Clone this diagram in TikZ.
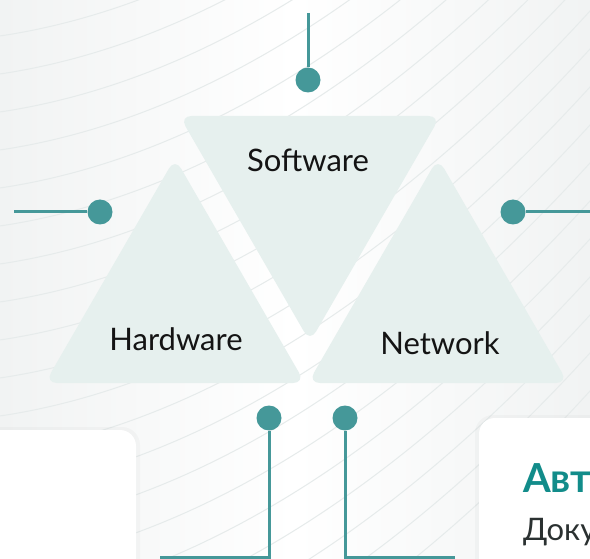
\documentclass[tikz,border=0pt]{standalone}
\usepackage{fontspec}
\setmainfont{Lato}

\definecolor{tealdot}{HTML}{459899}
\definecolor{tealhead}{HTML}{128C8A}
\definecolor{trifill}{HTML}{E6F0EE}
\definecolor{bgline}{HTML}{E6EBEB}
\definecolor{bgside}{HTML}{F1F3F3}
\definecolor{txtdark}{HTML}{2B3131}

\tikzset{
	dot/.style={circle, fill=tealdot, minimum size=25pt, inner sep=0pt},
	wire/.style={draw=tealdot, line width=3pt},
	tri/.style={fill=trifill, rounded corners=12pt},
	card/.style={fill=white, rounded corners=16pt},
	lbl/.style={font=\fontsize{31}{36}\selectfont, text=black!92, anchor=base},
}

\begin{document}
\begin{tikzpicture}[x=1pt, y=-1pt]
		\useasboundingbox (0,0) rectangle (590,559);
		\shade[left color=bgside, right color=bgside, middle color=white] (0,0) rectangle (590,559);
		% curved lines in the background
		\foreach \k in {0,...,26}
			\draw[bgline, line width=1pt] plot[smooth, domain=-10:600, samples=30]
			(\x, {38*\k - 230 - 0.15*\x - 8*(\x/100)^2});

		% the three triangles
		\fill[tri] (179.5,116) -- (440.5,116) -- (310,342) -- cycle;
		\fill[tri] (175,158) -- (305,383) -- (45,383) -- cycle;
		\fill[tri] (438,158) -- (568,383) -- (308,383) -- cycle;
		\node[lbl] (software) at (308,172) {Software};
		\node[lbl] (hardware) at (176,350) {Hardware};
		\node[lbl] (network) at (440,355) {Network};

		% cards
		\fill[black, opacity=0.025, rounded corners=18pt] (-20,427) rectangle (140,600);
		\fill[card] (-20,430) rectangle (136,600);
		\fill[black, opacity=0.025, rounded corners=18pt] (475,415) rectangle (620,600);
		\fill[card] (479,418) rectangle (620,600);
		\node[anchor=base west, text=tealhead, inner sep=0pt,
			font=\fontsize{40}{46}\selectfont\bfseries] (title) at (523,492) {Авт};
		\node[anchor=base west, text=txtdark, inner sep=0pt,
			font=\fontsize{31}{36}\selectfont] (body) at (523,540) {Доку};

		% connectors
		\coordinate (topend) at (308,13);
		\coordinate (leftend) at (14,212);
		\coordinate (rightend) at (595,212);
		\coordinate (blend) at (160,557);
		\coordinate (brend) at (455,557);
		\node[dot] (topdot) at (308,80) {};
		\node[dot] (leftdot) at (100,212) {};
		\node[dot] (rightdot) at (513,212) {};
		\node[dot] (bldot) at (269,418) {};
		\node[dot] (brdot) at (345,418) {};
		\draw[wire] (topend) -- (topdot);
		\draw[wire] (leftend) -- (leftdot);
		\draw[wire] (rightdot) -- (rightend);
		\draw[wire] (bldot) |- (blend);
		\draw[wire] (brdot) |- (brend);
	\end{tikzpicture}
\end{document}
